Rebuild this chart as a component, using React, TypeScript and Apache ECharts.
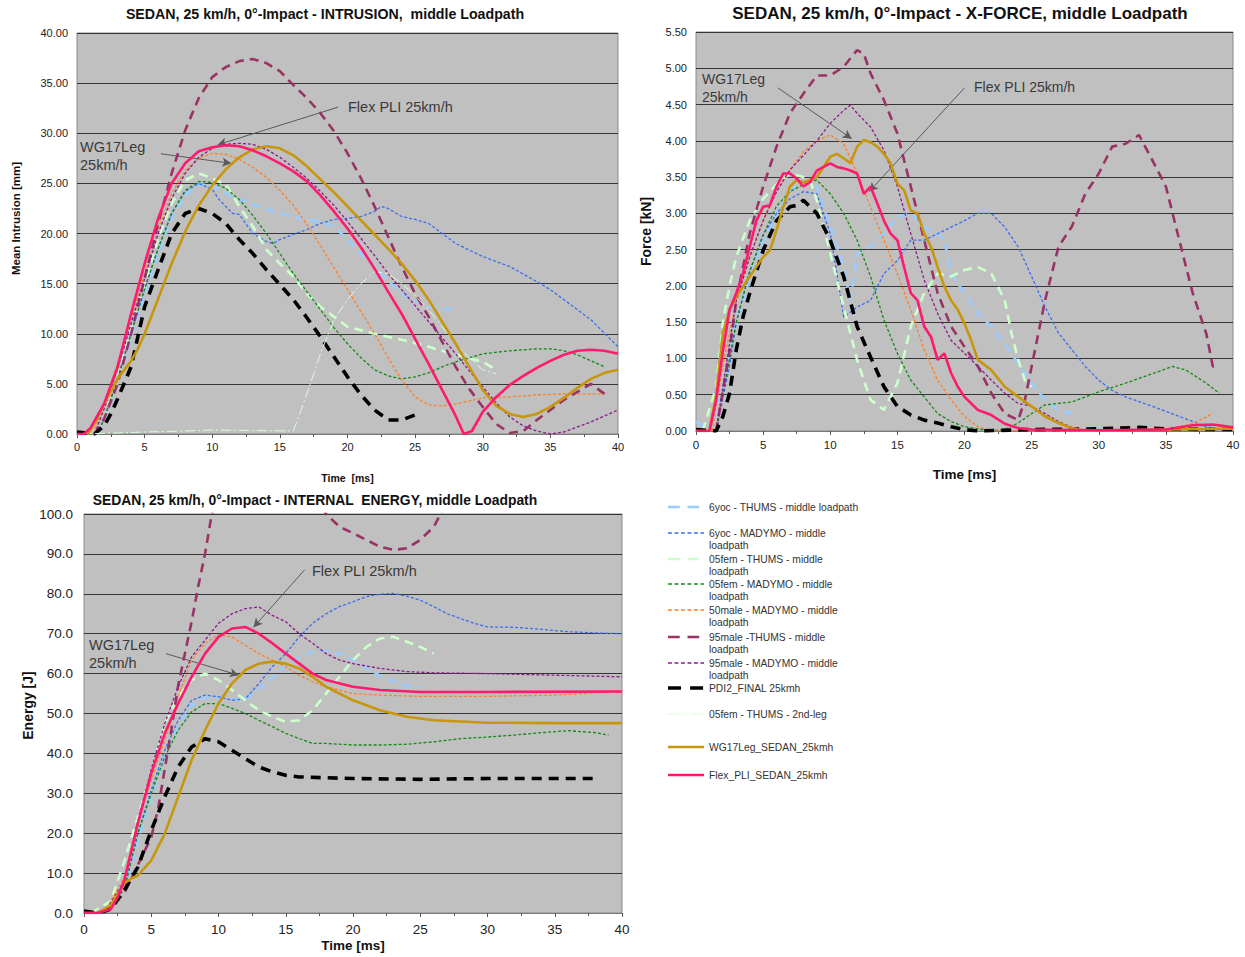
import React, { useEffect, useRef } from "react";
import * as echarts from "echarts";

const FONT = "'Liberation Sans', Arial, Helvetica, sans-serif";

// ---------- Series (legend order) ----------
const KEYS = ["y6T", "y6M", "f05T", "f05M", "m50M", "m95T", "m95M", "pdi2", "f05T2", "wg17", "flex"];
const LEGEND_LABELS = [
  "6yoc - THUMS - middle loadpath",
  "6yoc - MADYMO - middle\nloadpath",
  "05fem - THUMS - middle\nloadpath",
  "05fem - MADYMO - middle\nloadpath",
  "50male - MADYMO - middle\nloadpath",
  "95male -THUMS - middle\nloadpath",
  "95male - MADYMO - middle\nloadpath",
  "PDI2_FINAL 25kmh",
  "05fem - THUMS - 2nd-leg",
  "WG17Leg_SEDAN_25kmh",
  "Flex_PLI_SEDAN_25kmh",
];
const COLORS = ["#99ccff", "#3a6cf0", "#ccffcc", "#138a13", "#ff7f27", "#993366", "#8b1a8b", "#000000", "#d8ffd8", "#c8960a", "#ff1a6e"];
const WIDTHS = [2.6, 1.3, 2.6, 1.3, 1.3, 2.6, 1.3, 3.6, 1, 2.6, 2.6];
const DASHES: any[] = [[9, 6], [3, 2], [9, 6], [3, 2], [3, 2], [9, 6], [3, 2], [10, 7], [10, 3, 2, 3], "solid", "solid"];

// ---------- Chart 1: INTRUSION [mm] ----------
const I_y6T = [[1.5,0],[2,1.2],[3,5],[4,9.5],[5,14],[6,18],[7,21.5],[8,23.8],[9,24.9],[10,24.8],[11,24],[12,23.4],[13,22.9],[14,22.4],[15,22],[16,21.7],[17,21.4],[18,21.2],[19,20.7],[20,19.4],[21,18],[22,16.7],[23,15.3],[24,14],[25,13.3],[26,12.7],[27,12.5],[28,12.4]];
const I_y6M = [[1.5,0],[2,1.5],[3,5.5],[4,10],[5,14.5],[6,18.5],[7,22],[8,24.2],[9,25],[10,24.4],[10.5,23.4],[11.5,22],[12,21.9],[13,20],[14,19.2],[14.5,19],[15,19.4],[16,19.9],[17,20.4],[18,21],[19,21.4],[20,21.5],[21,21.7],[22,22.2],[22.5,22.7],[23,22.5],[24,21.7],[25,21.4],[26,21],[27,20],[28,19],[30,17.7],[32,16.7],[34,15.2],[35,14.4],[36,13.4],[38,11.4],[40,8.7]];
const I_f05T = [[1.5,0],[2,1.5],[3,5.5],[4,10.5],[5,15],[6,19.5],[7,23],[8,25.3],[9,26],[10,25.5],[11,24.9],[12,22.7],[13,20.7],[14,18.4],[15,17],[16,15.7],[17,14],[18,12.7],[19,11.7],[20,10.7],[22,10],[24,9.4],[26,8.7],[28,7.9],[30,7.2],[31,6.4]];
const I_f05M = [[1.5,0],[2,1.5],[3,5.5],[4,10],[5,14.5],[6,18.5],[7,22],[8,24.3],[9,25.2],[10,25.1],[11,24.5],[12,23.4],[13,21.8],[14,20],[15,18],[16,16],[17,14.2],[18,12.4],[19,10.6],[20,9],[21,7.6],[22,6.4],[23,5.8],[24,5.5],[25,5.7],[26,6.1],[27,6.7],[28,7.2],[30,8],[32,8.3],[34,8.5],[35,8.5],[36,8.3],[37,7.9],[38,7.3],[39,6.7]];
const I_m50M = [[1.2,0],[2,3],[3,7],[4,11.5],[5,16],[6,20.5],[7,24],[8,26.3],[9,27.5],[10,28],[11,27.9],[12,27.4],[13,26.6],[14,25.6],[15,24.3],[16,22.8],[17,20.9],[18,18.8],[19,16.6],[20,14.4],[21,12.2],[22,10],[23,7.6],[24,5.4],[25,3.7],[26,2.9],[27,2.8],[28,3],[29,3.3],[30,3.6],[32,3.7],[34,3.9],[36,4],[38,4],[39,4]];
const I_m95T = [[1.3,0],[2,1.5],[3,5],[4,10],[5,15.5],[6,21],[7,26],[8,30.3],[9,33.5],[10,35.6],[11,36.6],[12,37.2],[13,37.4],[14,37],[15,36.2],[16,34.8],[17,33.5],[18,32],[19,30.2],[20,28],[21,25.5],[22,22.7],[23,19.7],[24,16.7],[25,14],[26,11.7],[27,9.2],[28,6.7],[29,4.5],[30,2.7],[31,1],[32,0.1],[33,0.3],[34,1.4],[35,2.4],[36,3.4],[37,4.2],[38,5],[39,4]];
const I_m95M = [[1.3,0],[2,2.5],[3,6.5],[4,11],[5,15.5],[6,20],[7,23.5],[8,26],[9,27.6],[10,28.5],[11,28.9],[12,29],[13,28.9],[14,28.4],[15,27.6],[16,26.6],[17,25.5],[18,24.2],[19,22.8],[20,21.2],[21,19.5],[22,17.8],[23,16],[24,14.4],[25,12.8],[26,11.2],[27,9.6],[28,8],[29,6.3],[30,4.7],[31,3.1],[32,1.7],[33,0.8],[34,0.3],[35,0],[36,0.2],[37,0.7],[38,1.2],[39,1.8],[40,2.4]];
const I_pdi2 = [[0,0.2],[1.3,0],[2,0.8],[2.5,2],[3,3.5],[4,6.7],[5,12.7],[6,16.4],[7,20],[8,22],[9,22.5],[10,22],[11,21],[12,19.4],[13,18],[14,16.4],[15,14.9],[16,13.4],[17,11.6],[18,9.7],[19,7.7],[20,5.7],[21,3.9],[22,2.4],[23,1.4],[24,1.4],[25,1.9]];
const I_f05T2 = [[0,0],[3,0.1],[5,0.2],[8,0.3],[10,0.4],[13,0.35],[16,0.3],[17,4],[18,8],[19,11.4],[20,13.4],[21,15],[22,16.2],[23,16],[24,15],[25,13.8],[26,12.4],[27,10.7],[28,9],[29,7.6],[30,6.4],[31,6]];
const I_wg17 = [[0.8,0],[1.5,1.5],[2,3],[3,5.5],[4,7.3],[4.5,8.5],[5,10],[6,13.5],[7,17],[8,20.2],[9,22.8],[10,24.8],[11,26.4],[12,27.6],[13,28.4],[14,28.7],[15,28.5],[16,27.8],[17,26.7],[18,25.4],[19,24.1],[20,22.7],[21,21.3],[22,19.9],[23,18.5],[24,17],[25,15.3],[26,13.4],[27,11.2],[28,9],[29,6.7],[30,4.4],[31,2.8],[32,2],[33,1.7],[34,2],[35,2.7],[36,3.6],[37,4.6],[38,5.5],[39,6.1],[40,6.4]];
const I_flex = [[0,0],[0.5,0],[1,0.6],[2,3],[3,6.7],[4,12],[5,17],[6,21.5],[7,25],[8,27],[9,28.2],[10,28.6],[11,28.8],[12,28.7],[13,28.3],[14,27.7],[15,27],[16,26.2],[17,25.2],[18,23.8],[19,22.2],[20,20.5],[21,18.6],[22,16.5],[23,14.2],[24,12],[25,9.5],[26,7],[27,4.4],[28,1.8],[28.6,0],[29.2,0.3],[30,2.2],[31,3.7],[32,4.9],[33,5.8],[34,6.6],[35,7.3],[36,7.9],[37,8.3],[38,8.4],[39,8.3],[40,8.0]];

// ---------- Chart 2: X-FORCE [kN] ----------
const F_y6T = [[0,0.13],[1,0],[2,0.6],[3,1.5],[4,2.1],[5,2.6],[6,3],[7,3.3],[8,3.45],[9,3.37],[10,2.81],[11,2.26],[11.5,1.8],[12,2.45],[13,2.54],[14,2.72],[15,2.95],[16,3],[17,2.81],[18,2.72],[18.5,2.63],[19,2.17],[20,1.9],[21,1.62],[22,1.44],[23,1.21],[24,0.93],[25,0.66],[26,0.43],[27,0.29],[28,0.24]];
const F_y6M = [[1.5,0],[2.5,0.9],[3,1.5],[4,2.2],[5,2.7],[6,3],[7,3.2],[8,3.3],[9,3.27],[10,2.72],[10.5,2.17],[11,1.57],[12,1.71],[13,1.8],[14,2.17],[15,2.35],[16,2.63],[17,2.63],[18,2.72],[19,2.81],[20,2.9],[21,3],[22,3],[23,2.81],[24,2.54],[25,2.13],[26,1.71],[27,1.35],[28,1.12],[29,0.89],[30,0.7],[31,0.56],[32,0.47],[34,0.34],[36,0.2],[38,0.06],[39,0.03]];
const F_f05T = [[0.5,0],[1.5,0.6],[2,1.5],[2.5,2],[3,2.4],[4,2.9],[5,3.2],[6,3.4],[7,3.55],[8,3.5],[8.5,3.45],[9,3.18],[10,2.45],[11,1.71],[12,0.98],[13,0.43],[14,0.29],[15,0.66],[16,1.44],[17,1.9],[18,2.17],[19,2.13],[20,2.22],[21,2.26],[22,2.17],[23,1.8],[23.5,1.35],[24,0.98],[24.5,0.7],[25,0.61]];
const F_f05M = [[1.5,0],[2.5,1],[3,1.5],[4,2.2],[5,2.7],[6,3.1],[7,3.3],[8,3.4],[9,3.46],[10,3.27],[11,3],[12,2.63],[13,2.13],[14,1.53],[15,1.07],[16,0.7],[17,0.47],[18,0.24],[19,0.13],[20,0.06],[22,0],[23,0.02],[24,0.11],[25,0.24],[26,0.36],[28,0.4],[30,0.54],[32,0.66],[34,0.79],[35.5,0.89],[36.5,0.84],[38,0.66],[39,0.52]];
const F_m50M = [[1.2,0],[2,0.9],[3,1.8],[4,2.4],[5,2.9],[6,3.3],[7,3.6],[8,3.85],[9,4],[10,4.08],[11,3.96],[12,3.55],[13,3.09],[14,2.63],[15,2.17],[16,1.67],[17,1.12],[18,0.7],[19,0.43],[20,0.2],[21,0.06],[22,0],[30,0],[35,0.03],[37,0.1],[38.5,0.24]];
const F_m95T = [[1.5,0],[2.5,1.1],[3,1.8],[4,2.72],[5,3.37],[6,3.92],[7,4.38],[8,4.65],[9,4.9],[10,4.9],[11,5.02],[12,5.25],[12.5,5.2],[13,4.93],[14,4.56],[15,4.1],[16,3.37],[17,2.63],[18,1.9],[19,1.44],[20,1.16],[21,0.89],[22,0.52],[23,0.24],[24,0.15],[24.5,0.43],[25,0.89],[26,1.8],[27,2.54],[28,2.82],[29,3.27],[30,3.55],[31,3.92],[32,3.96],[33,4.08],[34,3.73],[35,3.37],[36,2.63],[37,1.9],[38,1.35],[38.5,0.89],[39,0.91]];
const F_m95M = [[1.5,0],[2.5,1.2],[3,1.8],[4,2.4],[5,2.9],[6,3.3],[7,3.6],[8,3.8],[9,4],[10,4.24],[11,4.42],[11.5,4.49],[12,4.38],[13,4.19],[14,3.87],[15,3.37],[16,2.72],[17,2.08],[18,1.62],[19,1.25],[20,1.07],[21,0.89],[22,0.7],[23,0.52],[24,0.38],[25,0.34],[26,0.24],[27,0.13],[28,0.05],[29,0]];
const F_pdi2 = [[0,0.02],[1.5,0],[2,0.2],[2.5,0.52],[3,1.12],[3.5,1.57],[4,1.9],[5,2.49],[6,2.9],[7,3.09],[7.5,3.11],[8,3.18],[8.5,3.09],[9,3],[10,2.63],[11,2.13],[12,1.44],[13,1.02],[14,0.61],[15,0.34],[16,0.22],[17,0.15],[18,0.11],[19,0.06],[20,0.02],[21,0],[25,0.02],[30,0.03],[33,0.05],[35,0.03],[38,0.02],[40,0.02]];
const F_wg17 = [[0,0],[1,0],[1.5,0.5],[2,1.35],[2.5,1.67],[3,1.85],[4,2.13],[5,2.4],[5.5,2.49],[6,2.77],[6.5,3.09],[7,3.37],[7.5,3.46],[8,3.43],[8.5,3.46],[9,3.5],[9.5,3.64],[10,3.78],[10.5,3.82],[11,3.76],[11.5,3.69],[12,3.92],[12.5,4.01],[13,3.98],[13.5,3.92],[14,3.82],[14.5,3.69],[15,3.41],[15.5,3.32],[16,3.04],[16.5,3],[17,2.72],[17.5,2.54],[18,2.26],[18.5,1.99],[19,1.8],[19.5,1.67],[20,1.48],[20.5,1.25],[21,0.98],[22,0.84],[23,0.61],[24,0.47],[25,0.34],[26,0.2],[27,0.11],[28,0.04],[29,0],[35,0.02],[40,0.03]];
const F_flex = [[0,0],[1,0],[1.5,0.43],[2,1.1],[2.5,1.67],[3,1.9],[3.5,2.17],[4,2.54],[4.5,2.9],[5,3.09],[5.5,3.11],[6,3.37],[6.5,3.55],[7,3.55],[7.5,3.48],[8,3.37],[8.5,3.43],[9,3.59],[9.5,3.64],[10,3.69],[10.5,3.64],[11,3.62],[11.5,3.59],[12,3.55],[12.5,3.27],[13,3.37],[13.5,3.14],[14,2.9],[14.5,2.72],[15,2.63],[15.5,2.26],[16,1.9],[16.5,1.8],[17,1.44],[17.5,1.3],[18,0.98],[18.5,1.07],[19,0.8],[19.5,0.61],[20,0.47],[21,0.29],[22,0.22],[23,0.1],[24,0.04],[25,0.02],[30,0.01],[35,0.02],[37,0.08],[38.5,0.09],[40,0.05]];

// ---------- Chart 3: INTERNAL ENERGY [J] ----------
const E_y6T = [[1.5,0],[3,5],[4,18],[5,29],[6,39],[7,47],[8,52],[9,54],[10,54],[11,53.5],[12,53.5],[13,56],[14,59],[15,62],[16,64],[17,65.5],[18,65.8],[19,65],[20,63.5],[21,61.5],[22,59.5],[23,58],[24,57],[25,56.5]];
const E_y6M = [[1.5,0],[3,6],[4,20],[5,30.8],[6,40.8],[7,48.3],[8,53.3],[9,54.6],[10,54.2],[11,53.3],[12,53.7],[13,57.5],[14,61.7],[15,65],[16,69.2],[17,72.6],[18,75],[19,76.8],[20,78],[21,79.3],[22,79.9],[23,80.1],[24,79.4],[25,78.4],[26,76.8],[27,75],[28,73.8],[29,72.6],[30,71.7],[32,71.6],[34,71.1],[36,70.5],[38,70.2],[40,70]];
const E_f05T = [[0.5,0],[2,3],[3,13],[4,24],[5,35],[6,47.5],[7,54.2],[8,58.4],[9,60],[10,58.4],[11,55.9],[12,53.3],[13,50.8],[14,49.2],[15,47.9],[16,48.3],[17,50.8],[18,55],[19,59.2],[20,63.4],[21,66.7],[22,68.8],[23,69.2],[24,68],[25,66.7],[26,65]];
const E_f05M = [[1.5,0],[3,6],[4,19.9],[5,29.9],[6,39.1],[7,45.8],[8,50.4],[9,52.5],[10,52.5],[11,51.3],[12,50],[13,48.3],[14,46.7],[15,45],[16,43.7],[17,42.5],[18,42.5],[20,42.1],[22,42.1],[24,42.3],[26,42.9],[28,43.7],[30,44.1],[32,44.6],[34,45.2],[36,45.7],[38,45.2],[39,44.6]];
const E_m50M = [[1.5,0],[3,9],[4,23],[5,33.3],[6,43.3],[7,54.2],[8,63.4],[9,67.6],[10,69.7],[11,69.2],[12,67.1],[13,65],[14,63.4],[15,61.7],[16,59.6],[17,57.9],[18,56.7],[20,55],[22,54.6],[25,54.3],[30,54.3],[35,54.6],[39,55.4]];
const E_m95T = [[1.5,0],[3,5],[4,12],[5,19],[5.5,26],[6,36],[6.5,46],[7,57],[7.5,65],[8,73],[8.5,82],[9,90],[9.5,100],[10,106],[11,112],[12,116],[13,117],[14,117],[15,115],[16,111],[17,106],[18,100],[19,96.8],[20,95.2],[21,93.5],[22,91.8],[23,91],[24,91.4],[25,93.5],[26,96.8],[27,103],[28,110],[29,118]];
const E_m95M = [[1.5,0],[3,8],[4,23],[5,36],[6,47.5],[7,56.7],[8,64.2],[9,68.4],[10,72.6],[11,75],[12,76.3],[13,76.7],[14,74.6],[15,73],[16,70],[17,67.6],[18,65],[19,63.4],[20,62.5],[22,61.3],[24,60.5],[26,60.2],[30,60],[35,59.6],[40,59.2]];
const E_pdi2 = [[0,0.5],[1,0],[2,1],[3,5.7],[4,11.5],[5,20.7],[6,29.1],[7,36.6],[8,41.6],[9,43.7],[10,42.9],[11,40.8],[12,38.7],[13,36.6],[14,35.4],[15,34.5],[16,34.1],[18,33.9],[20,33.7],[25,33.5],[30,33.7],[35,33.7],[38,33.7]];
const E_wg17 = [[0,0],[1,0],[2,2],[3,7.4],[3.5,8.6],[4,9.4],[5,13.2],[6,19.9],[7,29.1],[8,38.3],[9,45.8],[10,52.5],[11,57.5],[12,60.9],[13,62.5],[14,63],[15,62.5],[16,61.3],[17,59.2],[18,56.7],[20,53.3],[22,50.8],[24,49.2],[26,48.3],[30,47.7],[35,47.6],[40,47.6]];
const E_flex = [[0,0],[1,0],[2,1],[2.5,4],[3,8.2],[4,22.4],[5,35],[6,45],[7,52.5],[8,59.2],[9,65],[10,69.2],[11,71.3],[12,71.7],[13,70],[14,67.6],[15,65],[16,62.5],[17,60],[18,58.4],[20,56.7],[22,55.9],[25,55.4],[30,55.4],[40,55.5]];

const CHART_DATA: Record<string, any[]>[] = [
  { y6T: I_y6T, y6M: I_y6M, f05T: I_f05T, f05M: I_f05M, m50M: I_m50M, m95T: I_m95T, m95M: I_m95M, pdi2: I_pdi2, f05T2: I_f05T2, wg17: I_wg17, flex: I_flex },
  { y6T: F_y6T, y6M: F_y6M, f05T: F_f05T, f05M: F_f05M, m50M: F_m50M, m95T: F_m95T, m95M: F_m95M, pdi2: F_pdi2, wg17: F_wg17, flex: F_flex },
  { y6T: E_y6T, y6M: E_y6M, f05T: E_f05T, f05M: E_f05M, m50M: E_m50M, m95T: E_m95T, m95M: E_m95M, pdi2: E_pdi2, wg17: E_wg17, flex: E_flex },
];

// ---------- Axes ----------
const TITLES = [
  "SEDAN, 25 km/h, 0°-Impact - INTRUSION,  middle Loadpath",
  "SEDAN, 25 km/h, 0°-Impact - X-FORCE, middle Loadpath",
  "SEDAN, 25 km/h, 0°-Impact - INTERNAL  ENERGY, middle Loadpath",
];
const Y_NAMES = ["Mean Intrusion [mm]", "Force [kN]", "Energy [J]"];
const X_NAMES = ["Time  [ms]", "Time [ms]", "Time [ms]"];
const Y_MAX = [40, 5.5, 100];
const Y_STEP = [5, 0.5, 10];
const Y_DEC = [2, 2, 1];

// annotation arrows [from, to] in data coordinates
const ARROWS = [
  [[[19.3, 32.6], [10.4, 28.85]], [[6.2, 27.95], [11.4, 27.0]]],
  [[[6.1, 4.73], [11.6, 4.03]], [[20.0, 4.73], [12.9, 3.3]]],
  [[[16.4, 86], [12.6, 71.6]], [[6.1, 65], [11.5, 59.6]]],
];

// layout (pixels)
const GRIDS = [
  { left: 77, top: 33, width: 541, height: 401 },
  { left: 696, top: 32, width: 537, height: 399 },
  { left: 84, top: 514, width: 538, height: 399 },
];

export default function App() {
  const ref = useRef<HTMLDivElement>(null);
  useEffect(() => {
    if (!ref.current) return;
    const chart = echarts.init(ref.current, undefined, { renderer: "svg" });

    const series: any[] = [];
    CHART_DATA.forEach((cd, ci) => {
      KEYS.forEach((k, ki) => {
        const d = cd[k];
        if (!d) return;
        const s: any = {
          type: "line",
          name: LEGEND_LABELS[ki].replace("\n", " "),
          xAxisIndex: ci,
          yAxisIndex: ci,
          data: d,
          symbol: "none",
          showSymbol: false,
          silent: true,
          clip: true,
          z: 2 + ki,
          lineStyle: { color: COLORS[ki], width: WIDTHS[ki], type: DASHES[ki], cap: "butt" },
        };
        if (k === "flex") {
          s.markLine = {
            silent: true,
            symbol: ["none", "arrow"],
            symbolSize: [7, 9],
            lineStyle: { color: "#5a5a5a", width: 1, type: "solid" },
            label: { show: false },
            emphasis: { disabled: true },
            data: ARROWS[ci].map((a: any) => [{ coord: a[0] }, { coord: a[1] }]),
          };
        }
        series.push(s);
      });
    });

    const xAxis = GRIDS.map((g, i) => ({
      type: "value",
      gridIndex: i,
      min: 0,
      max: 40,
      interval: 5,
      name: X_NAMES[i],
      nameLocation: "middle",
      nameGap: [38, 36, 25][i],
      nameTextStyle: { fontFamily: FONT, fontWeight: "bold", fontSize: [10.5, 13.5, 13.5][i], color: "#111" },
      axisLine: { show: true, lineStyle: { color: "#7a7a7a" } },
      axisTick: { show: true, length: 4, lineStyle: { color: "#555" } },
      minorTick: { show: true, splitNumber: 2, length: 3, lineStyle: { color: "#555" } },
      splitLine: { show: false },
      axisLabel: { fontFamily: FONT, fontSize: [11, 11.5, 13.5][i], color: "#222", margin: [7, 8, 9][i] },
    }));
    const yAxis = GRIDS.map((g, i) => ({
      type: "value",
      gridIndex: i,
      min: 0,
      max: Y_MAX[i],
      interval: Y_STEP[i],
      name: Y_NAMES[i],
      nameLocation: "middle",
      nameGap: [55, 43, 42][i],
      nameTextStyle: { fontFamily: FONT, fontWeight: "bold", fontSize: [11.5, 14, 14][i], color: "#111", padding: [[0, 0, 0, 30], 0, [0, 0, 0, 16]][i] },
      axisLine: { show: false },
      axisTick: { show: false },
      splitLine: { show: true, lineStyle: { color: "#353535", width: 1 } },
      axisLabel: {
        fontFamily: FONT,
        fontSize: [11, 11, 13.5][i],
        color: "#222",
        margin: [9, 9, 11][i],
        formatter: (v: number) => v.toFixed(Y_DEC[i]),
      },
    }));

    const graphic: any[] = [];
    // titles
    const titlePos = [[325, 14, 14.2], [960, 13, 17], [315, 500, 13.9]];
    TITLES.forEach((t, i) => {
      graphic.push({
        type: "text",
        x: titlePos[i][0],
        y: titlePos[i][1],
        style: { text: t, fontFamily: FONT, fontWeight: "bold", fontSize: titlePos[i][2], fill: "#111", align: "center", verticalAlign: "middle" },
        silent: true,
      });
    });
    // annotation texts
    const ann = [
      ["Flex PLI 25km/h", 348, 107, 14.5],
      ["WG17Leg", 80, 147, 14.5],
      ["25km/h", 80, 165, 14.5],
      ["WG17Leg", 702, 79, 14],
      ["25km/h", 702, 97, 14],
      ["Flex PLI 25km/h", 974, 87, 14],
      ["Flex PLI 25km/h", 312, 571, 14.5],
      ["WG17Leg", 89, 645, 14.5],
      ["25km/h", 89, 663, 14.5],
    ];
    ann.forEach((a: any) => {
      graphic.push({
        type: "text",
        x: a[1],
        y: a[2],
        z: 100,
        style: { text: a[0], fontFamily: FONT, fontSize: a[3], fill: "#3a3a3a", align: "left", verticalAlign: "middle" },
        silent: true,
      });
    });
    // legend
    const rows = [507, 533, 559, 584, 610, 637, 663, 688, 714, 747, 775];
    KEYS.forEach((k, i) => {
      graphic.push({
        type: "line",
        shape: { x1: 668, y1: rows[i], x2: 704, y2: rows[i] },
        style: { stroke: COLORS[i], lineWidth: WIDTHS[i], lineDash: DASHES[i] === "solid" ? null : (DASHES[i] as number[]).map((v: number) => v * 1.3) },
        silent: true,
      });
      graphic.push({
        type: "text",
        x: 709,
        y: rows[i] - 6,
        style: { text: LEGEND_LABELS[i], fontFamily: FONT, fontSize: 10.3, lineHeight: 12, fill: "#333", align: "left", verticalAlign: "top" },
        silent: true,
      });
    });

    chart.setOption({
      animation: false,
      backgroundColor: "#ffffff",
      grid: GRIDS.map((g) => ({ ...g, show: true, backgroundColor: "#c0c0c0", borderColor: "#8a8a8a", borderWidth: 1, containLabel: false })),
      xAxis,
      yAxis,
      series,
      graphic,
    });
    return () => chart.dispose();
  }, []);
  return <div ref={ref} style={{ position: "absolute", left: 0, top: 0, width: 1245, height: 957, background: "#fff" }} />;
}
